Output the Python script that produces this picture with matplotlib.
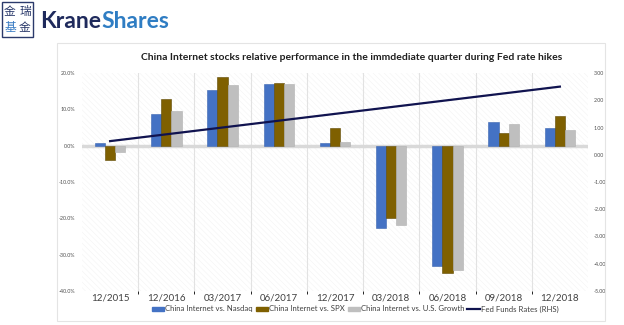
import matplotlib
matplotlib.use("Agg")
import matplotlib.pyplot as plt
import numpy as np
from matplotlib.patches import Rectangle, Patch
from matplotlib.lines import Line2D
from matplotlib.ticker import FuncFormatter, FixedLocator

plt.rcParams['font.family'] = ['Lato', 'DejaVu Sans']
plt.rcParams['hatch.linewidth'] = 0.35

categories = ["12/2015", "12/2016", "03/2017", "06/2017", "12/2017",
              "03/2018", "06/2018", "09/2018", "12/2018"]
vs_nasdaq = [0.8, 8.8, 15.4, 17.0, 0.7, -22.6, -33.2, 6.5, 4.9]
vs_spx = [-4.0, 12.8, 18.8, 17.3, 4.9, -19.9, -35.0, 3.4, 8.3]
vs_growth = [-1.8, 9.6, 16.6, 17.1, 1.1, -21.7, -34.3, 6.0, 4.4]
fed_funds = [0.50, 0.75, 1.00, 1.25, 1.50, 1.75, 2.00, 2.25, 2.50]
series_names = ["China Internet vs. Nasdaq", "China Internet vs. SPX",
                "China Internet vs. U.S. Growth", "Fed Funds Rates (RHS)"]
title = "China Internet stocks relative performance in the immdediate quarter during Fed rate hikes"

c_blue = "#4472C4"
c_brown = "#7F6000"
c_gray = "#BFBFBF"
c_line = "#10134F"

fig = plt.figure(figsize=(6.24, 3.25), dpi=100)
fig.patch.set_facecolor("white")

# chart frame
fig.patches.append(Rectangle((57/624, 1-321/325), (605-57)/624, (321-43)/325,
                             transform=fig.transFigure, fill=False,
                             edgecolor="#e4e4e4", linewidth=0.8))

# logo
fig.patches.append(Rectangle((2/624, 1-37/325), 31/624, 35/325,
                             transform=fig.transFigure, fill=False,
                             edgecolor="#2b3a6b", linewidth=1.0))
cjk = ['Noto Sans CJK SC', 'DejaVu Sans']
fig.text(10/624, 1-11/325, "金", family=cjk, fontsize=8.5, color="#2b3a6b", ha="center", va="center")
fig.text(25/624, 1-11/325, "瑞", family=cjk, fontsize=8.5, color="#2b3a6b", ha="center", va="center")
fig.text(10/624, 1-28/325, "基", family=cjk, fontsize=8.5, color="#3a7cc4", ha="center", va="center")
fig.text(25/624, 1-28/325, "金", family=cjk, fontsize=8.5, color="#2b3a6b", ha="center", va="center")
t1 = fig.text(40/624, 1-21/325, "Krane", fontsize=16.5, fontweight="bold",
              color="#1f2a5c", ha="left", va="center", family=['Lato', 'DejaVu Sans'])
fig.canvas.draw()
bb = t1.get_window_extent()
fig.text(bb.x1/624, 1-21/325, "Shares", fontsize=16.5, fontweight="bold",
         color="#2f7dc3", ha="left", va="center", family=['Lato', 'DejaVu Sans'])

ax = fig.add_axes([82/624, 1-291/325, (588-82)/624, (291-73)/325])
ax.set_facecolor("white")
ax.add_patch(Rectangle((0, 0), 1, 1, transform=ax.transAxes, facecolor="white",
                       edgecolor="#f2f2f2", hatch="\\\\\\\\\\\\", linewidth=0, zorder=0))

x = np.arange(len(categories))
w = 0.18
ax.bar(x - w, vs_nasdaq, w, color=c_blue, edgecolor="#3a64b0", linewidth=0.4, zorder=3)
ax.bar(x, vs_spx, w, color=c_brown, edgecolor="#5e4700", linewidth=0.4, zorder=3)
ax.bar(x + w, vs_growth, w, color=c_gray, edgecolor="#b0b0b0", linewidth=0.4, zorder=3)

ax.set_xlim(-0.5, len(categories) - 0.5)
ax.set_ylim(-40, 20)
ax.set_yticks(np.arange(-40, 21, 10))
ax.yaxis.set_major_formatter(FuncFormatter(lambda v, p: f"{v:.1f}%"))
ax.tick_params(axis="y", labelsize=3.8, length=0, pad=5, labelcolor="#505050")
ax.set_xticks(x)
ax.set_xticklabels(categories)
ax.tick_params(axis="x", labelsize=7, length=0, pad=2, labelcolor="#404040")
ax.xaxis.set_minor_locator(FixedLocator(np.arange(0.5, len(categories) - 1, 1)))
ax.grid(which="minor", axis="x", color="#e2e2e2", linewidth=0.8, zorder=1)
ax.axhline(0, color="#d9d9d9", linewidth=2.5, zorder=2)
for s in ax.spines.values():
    s.set_visible(False)

ax2 = ax.twinx()
ax2.plot(x, fed_funds, color=c_line, linewidth=1.6, zorder=5)
ax2.set_ylim(-5, 3)
ax2.set_yticks(np.arange(-5, 3.01, 1))
ax2.yaxis.set_major_formatter(FuncFormatter(lambda v, p: f"{v:.2f}"))
ax2.tick_params(axis="y", labelsize=3.8, length=0, pad=4, labelcolor="#505050")
for s in ax2.spines.values():
    s.set_visible(False)

fig.text(352/624, 1-57/325, title, fontsize=7.5, fontweight="bold", color="#202020",
         ha="center", va="center")

handles = [Patch(facecolor=c_blue, edgecolor=c_blue),
           Patch(facecolor=c_brown, edgecolor=c_brown),
           Patch(facecolor=c_gray, edgecolor=c_gray),
           Line2D([0], [0], color=c_line, linewidth=1.6)]
fig.legend(handles, series_names, loc="center", bbox_to_anchor=(355/624, 1-309/325),
           ncol=4, frameon=False, fontsize=5.6, handlelength=1.6, handleheight=0.45,
           handletextpad=0.1, columnspacing=0.4, labelcolor="#404040",
           borderpad=0, borderaxespad=0)

fig.savefig("out.png", dpi=100, facecolor="white")
